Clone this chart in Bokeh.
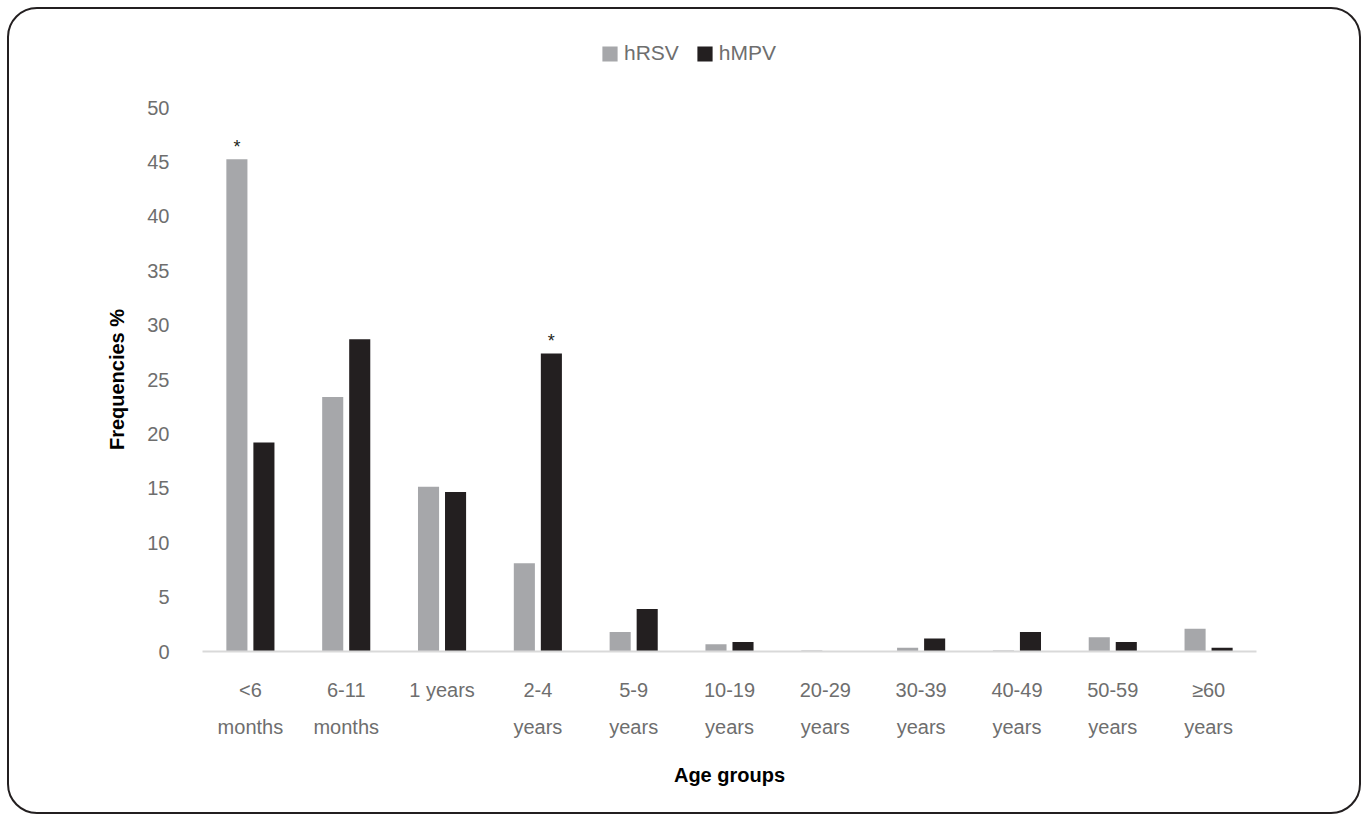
from bokeh.plotting import figure
from bokeh.layouts import column
from bokeh.models import ColumnDataSource, FixedTicker, LinearAxis, Range1d, Legend, LegendItem
from bokeh.embed import file_html
from bokeh.resources import INLINE
from bokeh.core.properties import value

FONT = "Liberation Sans"

# ---- data ----
age_line1 = ["<6", "6-11", "1 years", "2-4", "5-9", "10-19", "20-29", "30-39", "40-49", "50-59", "≥60"]
age_line2 = ["months", "months", "", "years", "years", "years", "years", "years", "years", "years", "years"]
hrsv = [45.25, 23.4, 15.15, 8.1, 1.8, 0.66, 0.1, 0.35, 0.1, 1.3, 2.1]
hmpv = [19.2, 28.7, 14.65, 27.4, 3.9, 0.88, 0.0, 1.2, 1.8, 0.88, 0.35]
hrsv_sig = [True, False, False, False, False, False, False, False, False, False, False]
hmpv_sig = [False, False, False, True, False, False, False, False, False, False, False]
y_ticks = [0, 5, 10, 15, 20, 25, 30, 35, 40, 45, 50]
series_names = ["hRSV", "hMPV"]
series_colors = ["#a6a7aa", "#231f20"]

idx = list(range(len(age_line1)))
OFF = 0.141
BW = 0.22
TICK_COLOR = "#6e6e6e"
TOP_H = 84
MAIN_TOP = 14

# ---- legend strip (top) ----
top = figure(width=1350, height=TOP_H, x_range=Range1d(0, 1), y_range=Range1d(0, 1),
             output_backend="svg", toolbar_location=None,
             x_axis_location=None, y_axis_location=None,
             min_border_left=0, min_border_right=0, min_border_top=0, min_border_bottom=0)
top.border_fill_color = None
top.background_fill_color = None
top.outline_line_color = None
top.xgrid.visible = False
top.ygrid.visible = False
d1 = top.vbar(x=[0.5], top=[0], width=0.0, fill_color=series_colors[0], line_color=None)
d2 = top.vbar(x=[0.5], top=[0], width=0.0, fill_color=series_colors[1], line_color=None)
legend = Legend(items=[LegendItem(label=series_names[0], renderers=[d1]),
                       LegendItem(label=series_names[1], renderers=[d2])],
                orientation="horizontal", location=(398, 28),
                glyph_width=19, glyph_height=19, label_height=19,
                label_standoff=5, spacing=16, padding=0, margin=0,
                border_line_color=None, background_fill_alpha=0,
                label_text_font=FONT, label_text_font_size="21px",
                label_text_color=TICK_COLOR)
top.add_layout(legend)

# ---- main chart ----
src_r = ColumnDataSource(dict(x=[i - OFF for i in idx], top=hrsv))
src_m = ColumnDataSource(dict(x=[i + OFF for i in idx], top=hmpv))

p = figure(width=1350, height=803 - TOP_H,
           x_range=Range1d(-0.5, len(idx) - 0.5), y_range=Range1d(0, 50),
           output_backend="svg", toolbar_location=None,
           min_border_left=193, min_border_right=103,
           min_border_top=MAIN_TOP, min_border_bottom=161)
p.border_fill_color = None
p.background_fill_color = None
p.outline_line_color = None
p.xgrid.visible = False
p.ygrid.visible = False

r1 = p.vbar(x="x", top="top", width=BW, source=src_r, fill_color=series_colors[0], line_color=None)
r2 = p.vbar(x="x", top="top", width=BW, source=src_m, fill_color=series_colors[1], line_color=None)

# significance asterisks
ax_x = [i - OFF for i in idx if hrsv_sig[i]] + [i + OFF for i in idx if hmpv_sig[i]]
ax_y = [hrsv[i] for i in idx if hrsv_sig[i]] + [hmpv[i] for i in idx if hmpv_sig[i]]
p.text(x=ax_x, y=ax_y, text=["*"] * len(ax_x), text_align="center", text_baseline="bottom",
       y_offset=-2, text_font=value(FONT), text_font_size="18px", text_color="#231f20")

# y axis
ya = p.yaxis[0]
ya.ticker = FixedTicker(ticks=y_ticks)
ya.axis_line_color = None
ya.major_tick_line_color = None
ya.minor_tick_line_color = None
ya.major_label_text_font = FONT
ya.major_label_text_font_size = "20px"
ya.major_label_text_color = TICK_COLOR
ya.major_label_standoff = 27
ya.axis_label = "Frequencies %"
ya.axis_label_text_font = FONT
ya.axis_label_text_font_style = "bold"
ya.axis_label_text_font_size = "20px"
ya.axis_label_text_color = "#000000"
ya.axis_label_standoff = 16

# x axis line 1
xa = p.xaxis[0]
xa.ticker = FixedTicker(ticks=idx)
xa.major_label_overrides = {i: age_line1[i] for i in idx}
xa.axis_line_color = "#d9d9d9"
xa.axis_line_width = 2
xa.major_tick_line_color = None
xa.minor_tick_line_color = None
xa.major_label_text_font = FONT
xa.major_label_text_font_size = "20px"
xa.major_label_text_color = TICK_COLOR
xa.major_label_standoff = 21

# x axis line 2
xb = LinearAxis(ticker=FixedTicker(ticks=idx),
                major_label_overrides={i: (age_line2[i] or " ") for i in idx})
xb.axis_line_color = None
xb.major_tick_line_color = None
xb.minor_tick_line_color = None
xb.major_label_text_font = FONT
xb.major_label_text_font_size = "20px"
xb.major_label_text_color = TICK_COLOR
xb.major_label_standoff = 6
xb.axis_label = "Age groups"
xb.axis_label_text_font = FONT
xb.axis_label_text_font_style = "bold"
xb.axis_label_text_font_size = "20px"
xb.axis_label_text_color = "#000000"
xb.axis_label_standoff = 23
p.add_layout(xb, "below")

page = column(top, p, spacing=0)
page.styles = {"border": "2.5px solid #231f20", "border-radius": "30px",
               "overflow": "hidden", "margin-left": "7px", "margin-top": "7px"}

open("out.html", "w").write(file_html(page, INLINE))
